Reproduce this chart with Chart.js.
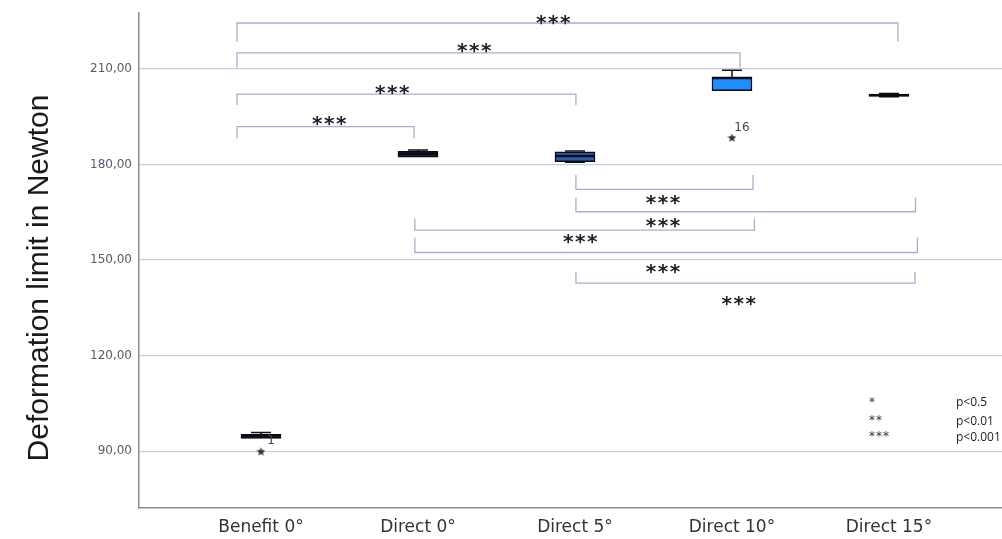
<!DOCTYPE html>
<html><head><meta charset="utf-8">
<script src="https://cdn.jsdelivr.net/npm/chart.js@4.4.1/dist/chart.umd.min.js"></script>
<style>html,body{margin:0;padding:0;background:#fff;overflow:hidden;}</style>
</head><body><canvas id="c" width="1002" height="539"></canvas>
<script>
// ---------- data ----------
const categories = ['Benefit 0°', 'Direct 0°', 'Direct 5°', 'Direct 10°', 'Direct 15°'];
const whiskerLow  = [94.0, 182.3, 180.7, 203.2, 201.3];
const q1          = [94.0, 182.3, 180.9, 203.2, 201.5];
const median      = [95.0, 183.3, 182.7, 207.2, 201.8];
const q3          = [95.34, 184.2, 184.0, 207.4, 202.1];
const whiskerHigh = [95.9, 184.6, 184.3, 209.6, 202.3];
const outlierX = [0, 3];
const outlierY = [90.0, 188.5];
const outlierLabels = ['1', '16'];
const yTicks = [90, 120, 150, 180, 210];
const yTitle = 'Deformation limit in Newton';
// significance brackets (x in category units, y in Newton)
const bracketStart = [-0.153, -0.153, -0.153, -0.153, 2.006, 2.006, 0.98, 0.98, 2.006];
const bracketEnd   = [4.057, 3.051, 2.006, 0.975, 3.134, 4.169, 3.143, 4.181, 4.166];
const bracketLine  = [224.45, 215.1, 202.1, 191.9, 172.2, 165.2, 159.4, 152.4, 142.8];
const bracketLeg   = [218.6, 210.5, 198.7, 188.3, 176.7, 169.6, 163.1, 157.0, 146.3];
const sigLabelText = ['***', '***', '***', '***', '***', '***', '***', '***', '***'];
const sigLabelX    = [1.866, 1.363, 0.841, 0.44, 2.565, 2.565, 2.038, 2.565, 3.048];
const sigLabelY    = [226.3, 217.5, 204.3, 194.6, 169.6, 162.6, 157.3, 148.1, 138.0];
// significance key
const keyStars = ['*', '**', '***'];
const keyTexts = ['p<0.5', 'p<0.01', 'p<0.001'];
const keyStarY = [106.3, 100.7, 95.7];
const keyTextY = [105.2, 99.2, 94.2];
const keyStarX = 3.873;
const keyTextX = 4.427;

// ---------- styles ----------
const boxFill = ['#15182a', '#1c2a48', '#2b5eae', '#1f8cff', '#111111'];
const gridColor = '#c9cbe2';
const axisColor = '#8c8c8c';
const bracketColor = '#a9afcb';

Chart.defaults.font.family = "'DejaVu Sans', sans-serif";
Chart.defaults.animation = false;

function starCanvas(size, color) {
  const c = document.createElement('canvas');
  c.width = size; c.height = size;
  const g = c.getContext('2d');
  const cx = size / 2, cy = size / 2 + 0.5, R = size / 2, r = R * 0.45;
  g.beginPath();
  for (let i = 0; i < 10; i++) {
    const a = -Math.PI / 2 + i * Math.PI / 5;
    const rr = i % 2 === 0 ? R : r;
    g.lineTo(cx + rr * Math.cos(a), cy + rr * Math.sin(a));
  }
  g.closePath();
  g.fillStyle = color; g.fill();
  return c;
}

function drawStars(ctx, text, x, yCenter, size, spacing, align, weight) {
  ctx.save();
  ctx.font = (weight || 'normal') + ' ' + size + "px 'DejaVu Sans'";
  ctx.letterSpacing = spacing + 'px';
  ctx.textAlign = align;
  ctx.textBaseline = 'alphabetic';
  ctx.fillText(text, x, yCenter + size * 0.58);
  ctx.restore();
}

const extras = {
  id: 'extras',
  beforeDatasetsDraw(chart) {
    const {ctx, scales: {x, y}} = chart;
    ctx.save();
    ctx.strokeStyle = '#111';
    ctx.lineWidth = 1.5;
    for (let i = 0; i < categories.length; i++) {
      const px = x.getPixelForValue(i);
      ctx.beginPath();
      ctx.moveTo(px, y.getPixelForValue(whiskerHigh[i]));
      ctx.lineTo(px, y.getPixelForValue(q3[i]));
      ctx.moveTo(px, y.getPixelForValue(whiskerLow[i]));
      ctx.lineTo(px, y.getPixelForValue(q1[i]));
      ctx.moveTo(px - 10, y.getPixelForValue(whiskerHigh[i]));
      ctx.lineTo(px + 10, y.getPixelForValue(whiskerHigh[i]));
      if (whiskerLow[i] < q1[i]) {
        ctx.moveTo(px - 10, y.getPixelForValue(whiskerLow[i]));
        ctx.lineTo(px + 10, y.getPixelForValue(whiskerLow[i]));
      }
      ctx.stroke();
    }
    ctx.restore();
  },
  afterDatasetsDraw(chart) {
    const {ctx, scales: {x, y}} = chart;
    ctx.save();
    // medians
    ctx.strokeStyle = '#0a0a12';
    ctx.lineWidth = 2.5;
    for (let i = 0; i < categories.length; i++) {
      const px = x.getPixelForValue(i);
      const py = y.getPixelForValue(median[i]);
      ctx.beginPath(); ctx.moveTo(px - 20, py); ctx.lineTo(px + 20, py); ctx.stroke();
    }
    // brackets
    ctx.strokeStyle = bracketColor;
    ctx.lineWidth = 1.3;
    ctx.lineJoin = 'round';
    for (let i = 0; i < bracketStart.length; i++) {
      const xs = x.getPixelForValue(bracketStart[i]);
      const xe = x.getPixelForValue(bracketEnd[i]);
      const yl = y.getPixelForValue(bracketLine[i]);
      const yg = y.getPixelForValue(bracketLeg[i]);
      ctx.beginPath();
      ctx.moveTo(xs, yg); ctx.lineTo(xs, yl); ctx.lineTo(xe, yl); ctx.lineTo(xe, yg);
      ctx.stroke();
    }
    // significance labels
    ctx.fillStyle = '#222';
    for (let i = 0; i < sigLabelText.length; i++) {
      drawStars(ctx, sigLabelText[i], x.getPixelForValue(sigLabelX[i]), y.getPixelForValue(sigLabelY[i]), 20, 1.5, 'center', 'bold');
    }
    // key
    for (let i = 0; i < keyStars.length; i++) {
      ctx.fillStyle = '#333';
      drawStars(ctx, keyStars[i], x.getPixelForValue(keyStarX), y.getPixelForValue(keyStarY[i]), 12, 1, 'left', 'normal');
      ctx.font = "12px 'Open Sans'";
      ctx.textAlign = 'left';
      ctx.textBaseline = 'middle';
      ctx.fillStyle = '#222';
      ctx.fillText(keyTexts[i], x.getPixelForValue(keyTextX), y.getPixelForValue(keyTextY[i]));
    }
    // outlier labels
    ctx.font = "12px 'DejaVu Sans'";
    ctx.fillStyle = '#444';
    ctx.textAlign = 'center';
    ctx.textBaseline = 'middle';
    for (let i = 0; i < outlierX.length; i++) {
      ctx.fillText(outlierLabels[i], x.getPixelForValue(outlierX[i]) + 10, y.getPixelForValue(outlierY[i]) - 10);
    }
    // y-axis title
    ctx.translate(40, 278);
    ctx.rotate(-Math.PI / 2);
    ctx.font = "30px 'Liberation Sans'";
    ctx.fillStyle = '#1a1a1a';
    ctx.textAlign = 'center';
    ctx.textBaseline = 'middle';
    ctx.fillText(yTitle, 0, 0);
    ctx.restore();
  }
};

new Chart(document.getElementById('c'), {
  type: 'bar',
  data: {
    datasets: [
      {
        type: 'bar',
        data: categories.map((c, i) => ({x: i, y: [q1[i], q3[i]]})),
        backgroundColor: boxFill,
        borderColor: '#0a0a14',
        borderWidth: 1.5,
        borderSkipped: false,
        barThickness: 40,
        order: 2
      },
      {
        type: 'scatter',
        data: outlierX.map((v, i) => ({x: v, y: outlierY[i]})),
        pointStyle: starCanvas(9, '#333'),
        order: 1
      }
    ]
  },
  options: {
    responsive: false,
    layout: {autoPadding: false, padding: {top: 13, right: 0, left: 0, bottom: 0}},
    plugins: {legend: {display: false}, tooltip: {enabled: false}},
    scales: {
      x: {
        type: 'linear',
        offset: false,
        min: -0.777,
        max: 4.72,
        afterBuildTicks: (s) => { s.ticks = categories.map((c, i) => ({value: i})); },
        afterFit: (s) => { s.height = 31; s.paddingRight = 0; s.paddingLeft = 0; },
        grid: {display: false, drawTicks: false, offset: false},
        border: {display: true, color: axisColor, width: 1.5},
        ticks: {
          callback: (v) => categories[Math.round(v)],
          font: {size: 17, family: "'DejaVu Sans'"},
          color: '#333',
          padding: 9,
          maxRotation: 0,
          autoSkip: false
        }
      },
      y: {
        type: 'linear',
        min: 72.19,
        max: 227.59,
        afterBuildTicks: (s) => { s.ticks = yTicks.map(v => ({value: v})); },
        afterFit: (s) => { s.width = 139; s.paddingTop = 0; s.paddingBottom = 0; },
        grid: {color: gridColor, lineWidth: 1.3, drawTicks: false},
        border: {display: true, color: axisColor, width: 1.5},
        ticks: {
          callback: (v) => v.toFixed(2).replace('.', ','),
          font: {size: 12, family: "'DejaVu Sans'"},
          color: '#5a5a6a',
          padding: 7
        }
      }
    }
  },
  plugins: [extras]
});
</script>
</body></html>
